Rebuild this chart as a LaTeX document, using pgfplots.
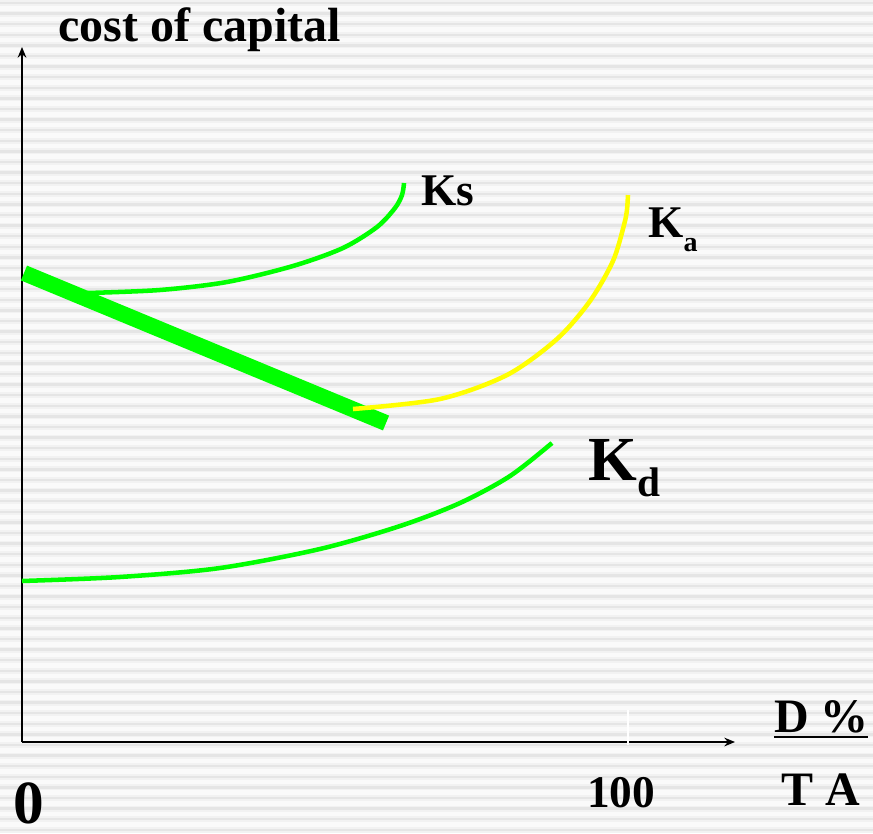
\documentclass[border=0pt]{standalone}
\usepackage{pgfplots}
\pgfplotsset{compat=1.18}
\usepackage{fontspec}
\setmainfont{Liberation Serif}
\usetikzlibrary{arrows.meta}

\definecolor{kgreen}{RGB}{0,255,0}
\definecolor{kyellow}{RGB}{255,255,0}

\begin{document}
\begin{tikzpicture}
\begin{scope}[x=0.75pt,y=0.75pt]
\path[use as bounding box] (0,0) rectangle (873,833);
% striped slide backdrop
\fill[white!98!black] (0,0) rectangle (873,833);
\clip (0,0) rectangle (873,833);
\foreach \k in {0,...,78} {
  \pgfmathsetmacro{\yy}{833-3-10.6*\k}
  \draw[black!5, line width=4.5pt] (0,\yy) -- (873,\yy);
  \draw[black!10, line width=1.8pt] (0,\yy) -- (873,\yy);
}
\end{scope}

\begin{axis}[
  at={(16.5pt,68.25pt)}, anchor=south west,
  scale only axis, width=534.75pt, height=521.25pt,
  xmin=0, xmax=117.66, ymin=0, ymax=114.69,
  axis lines=left,
  axis line style={black, line width=1.5pt, -{Stealth[length=8pt, width=6.5pt]}},
  xtick=\empty, ytick=\empty,
  clip=false,
]
% cost of equity K_s
\addplot[kgreen, line width=3.4pt, smooth] coordinates {
  (10.73,74.09) (22.77,74.59) (33.83,75.91) (44.72,78.55)
  (52.97,81.52) (58.58,84.98) (61.55,88.12) (62.71,90.26) (63.04,92.24)};
% falling weighted cost
\addplot[kgreen, line width=12pt] coordinates {(0.33,77.39) (60.07,52.64)};
% rising weighted cost K_a
\addplot[kyellow, line width=3.4pt, smooth] coordinates {
  (54.62,54.95) (68.98,56.60) (80.03,60.56) (88.28,66.50)
  (93.73,72.77) (97.52,79.37) (99.34,85.31) (99.83,87.79) (100.0,90.26)};
% cost of debt K_d
\addplot[kgreen, line width=3.4pt, smooth] coordinates {
  (0,26.57) (16.17,27.23) (32.67,28.71) (49.17,31.85)
  (62.38,35.64) (72.28,39.44) (80.53,43.89) (87.46,49.34)};
\end{axis}

\begin{scope}[x=0.75pt,y=0.75pt]
% tick mark at 100
\draw[white, line width=1.1pt] (628,88) -- (628,123);

\tikzset{lbl/.style={anchor=base west, inner sep=0pt, font=\bfseries}}
\node[lbl] at (58,791) {\fontsize{36pt}{40pt}\selectfont cost of capital};
\node[lbl] at (421,627) {\fontsize{34pt}{38pt}\selectfont Ks};
\node[lbl] at (648,595) {\fontsize{34pt}{38pt}\selectfont K\raisebox{-10.5pt}{\fontsize{21pt}{24pt}\selectfont a}};
\node[lbl] at (588,353) {\fontsize{47pt}{52pt}\selectfont K\raisebox{-12pt}{\fontsize{31pt}{34pt}\selectfont d}};
\node[lbl] at (774,101) {\fontsize{36pt}{40pt}\selectfont D \%};
\draw[black, line width=1.5pt] (774,96) -- (868,96);
\node[lbl] at (781,28) {\fontsize{36pt}{40pt}\selectfont T A};
\node[lbl] at (587,26) {\fontsize{34pt}{38pt}\selectfont 100};
\node[lbl] at (13,10) {\fontsize{46pt}{50pt}\selectfont 0};
\end{scope}
\end{tikzpicture}
\end{document}
